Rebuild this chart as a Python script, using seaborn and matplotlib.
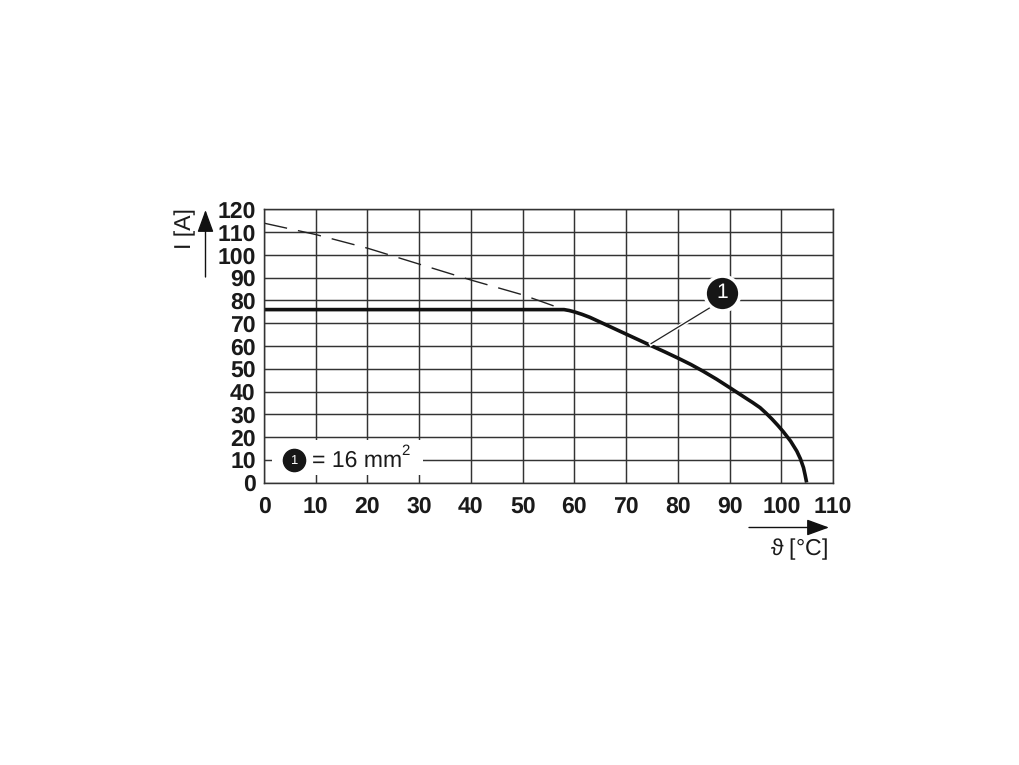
import matplotlib
matplotlib.use("Agg")
import matplotlib.pyplot as plt
import seaborn as sns

temp_solid = [0, 20, 40, 58, 59, 60, 61.5, 63, 65, 68.8, 72.7, 74.6, 77.5, 80.1, 82.5, 84.9, 87.5, 90.1, 93,
              94.5, 95.9, 97, 98.2, 99.3, 100.4, 101.8, 103, 103.7, 104.3, 104.6, 104.9]
current_solid = [76, 76, 76, 76, 75.6, 75, 73.9, 72.6, 70.5, 66.5, 62.4, 60.4, 57.4, 54.6, 51.9, 48.9, 45.4, 41.6, 37.3,
                 35.1, 32.9, 30.6, 27.9, 25.2, 22.3, 18.2, 13.8, 10.4, 6.5, 3.4, 0]
temp_dashed = [0, 10, 20, 30, 40, 50, 58]
current_dashed = [114, 109, 103, 96, 89, 82.5, 76]
x_ticks = list(range(0, 111, 10))
y_ticks = list(range(0, 121, 10))
y_label = "I [A]"
x_label = "$ϑ$ [°C]"
legend_text = "= 16 mm"
callout = "1"

W, H = 1020, 765
L, R, T, B = 264, 833, 209.5, 482.5
sns.set_theme(style="white")
plt.rcParams['font.family'] = ['Liberation Sans', 'DejaVu Sans']
plt.rcParams['text.hinting'] = 'none'
plt.rcParams['text.hinting_factor'] = 1
plt.rcParams['text.kerning_factor'] = 6
plt.rcParams['mathtext.fontset'] = 'custom'
plt.rcParams['mathtext.rm'] = 'Liberation Sans'
plt.rcParams['mathtext.it'] = 'STIXGeneral:italic'
plt.rcParams['mathtext.bf'] = 'Liberation Sans:bold'
plt.rcParams['mathtext.default'] = 'regular'
fig = plt.figure(figsize=(W / 100, H / 100), dpi=100, facecolor="white")
ax = fig.add_axes([L / W, 1 - B / H, (R - L) / W, (B - T) / H])

ink = "#1a1a1a"
ax.set_xlim(0, 110)
ax.set_ylim(0, 120)
ax.set_xticks(x_ticks)
ax.set_yticks(y_ticks)
ax.grid(True, color="#333333", lw=1.05)
ax.set_axisbelow(True)
for s in ax.spines.values():
    s.set_color("#333333")
    s.set_linewidth(1.05)
ax.tick_params(axis="both", length=0, labelsize=16.5, labelcolor=ink)
ax.tick_params(axis="x", pad=10)
ax.tick_params(axis="y", pad=6)
for t in ax.get_xticklabels() + ax.get_yticklabels():
    t.set_fontweight("bold")

sns.lineplot(x=temp_solid, y=current_solid, ax=ax, color="#111111", lw=2.6,
             estimator=None, sort=False, solid_capstyle="butt", solid_joinstyle="round", clip_on=False)
sns.lineplot(x=temp_dashed, y=current_dashed, ax=ax, color="#222222", lw=1.0,
             estimator=None, sort=False, dashes=False, linestyle=(0, (17, 8)))
ax.set_xlabel("")
ax.set_ylabel("")

# legend box
ax.add_patch(plt.Rectangle((1.5, 3.3), 29.2, 15.4, fc="white", ec="none", zorder=2.5))
ax.plot([5.8], [10], "o", ms=16, color="#161616", zorder=3)
ax.text(5.8, 9.7, callout, color="white", fontsize=9, ha="center", va="center", zorder=4)
ax.text(9.2, 9.7, legend_text, fontsize=16.3, color=ink, va="center", ha="left", zorder=4)
ax.text(26.5, 13.6, "2", fontsize=11, color=ink, va="center", ha="left", zorder=4)

# callout
ax.plot([74.5, 88.5], [60.5, 80], color="white", lw=3, zorder=3, solid_capstyle="butt")
ax.plot([74.8, 88.5], [61, 80], color="#222222", lw=0.9, zorder=3.2)
ax.plot([88.5], [83.5], "o", ms=25, mfc="#161616", mec="white", mew=2.5, zorder=4, clip_on=False)
ax.text(88.5, 83.3, callout, color="white", fontsize=15, ha="center", va="center", zorder=5)

# axis arrows and labels in figure pixels
def fx(px):
    return px / W
def fy(py):
    return 1 - py / H

arrow = dict(arrowstyle="-|>,head_length=1.15,head_width=0.42", color="#111111", lw=1.0,
             shrinkA=0, shrinkB=0, mutation_scale=12)
fig.add_artist(matplotlib.patches.FancyArrowPatch((fx(205.5), fy(277)), (fx(205.5), fy(210)),
               transform=fig.transFigure, **arrow))
fig.add_artist(matplotlib.patches.FancyArrowPatch((fx(749), fy(527.5)), (fx(829), fy(527.5)),
               transform=fig.transFigure, **arrow))
fig.text(fx(185), fy(229), y_label, rotation=90, fontsize=16.5, color=ink, ha="center", va="center")
fig.text(fx(799), fy(549), x_label, fontsize=16.5, color=ink, ha="center", va="center")

fig.savefig("out.png", dpi=100, facecolor="white")
